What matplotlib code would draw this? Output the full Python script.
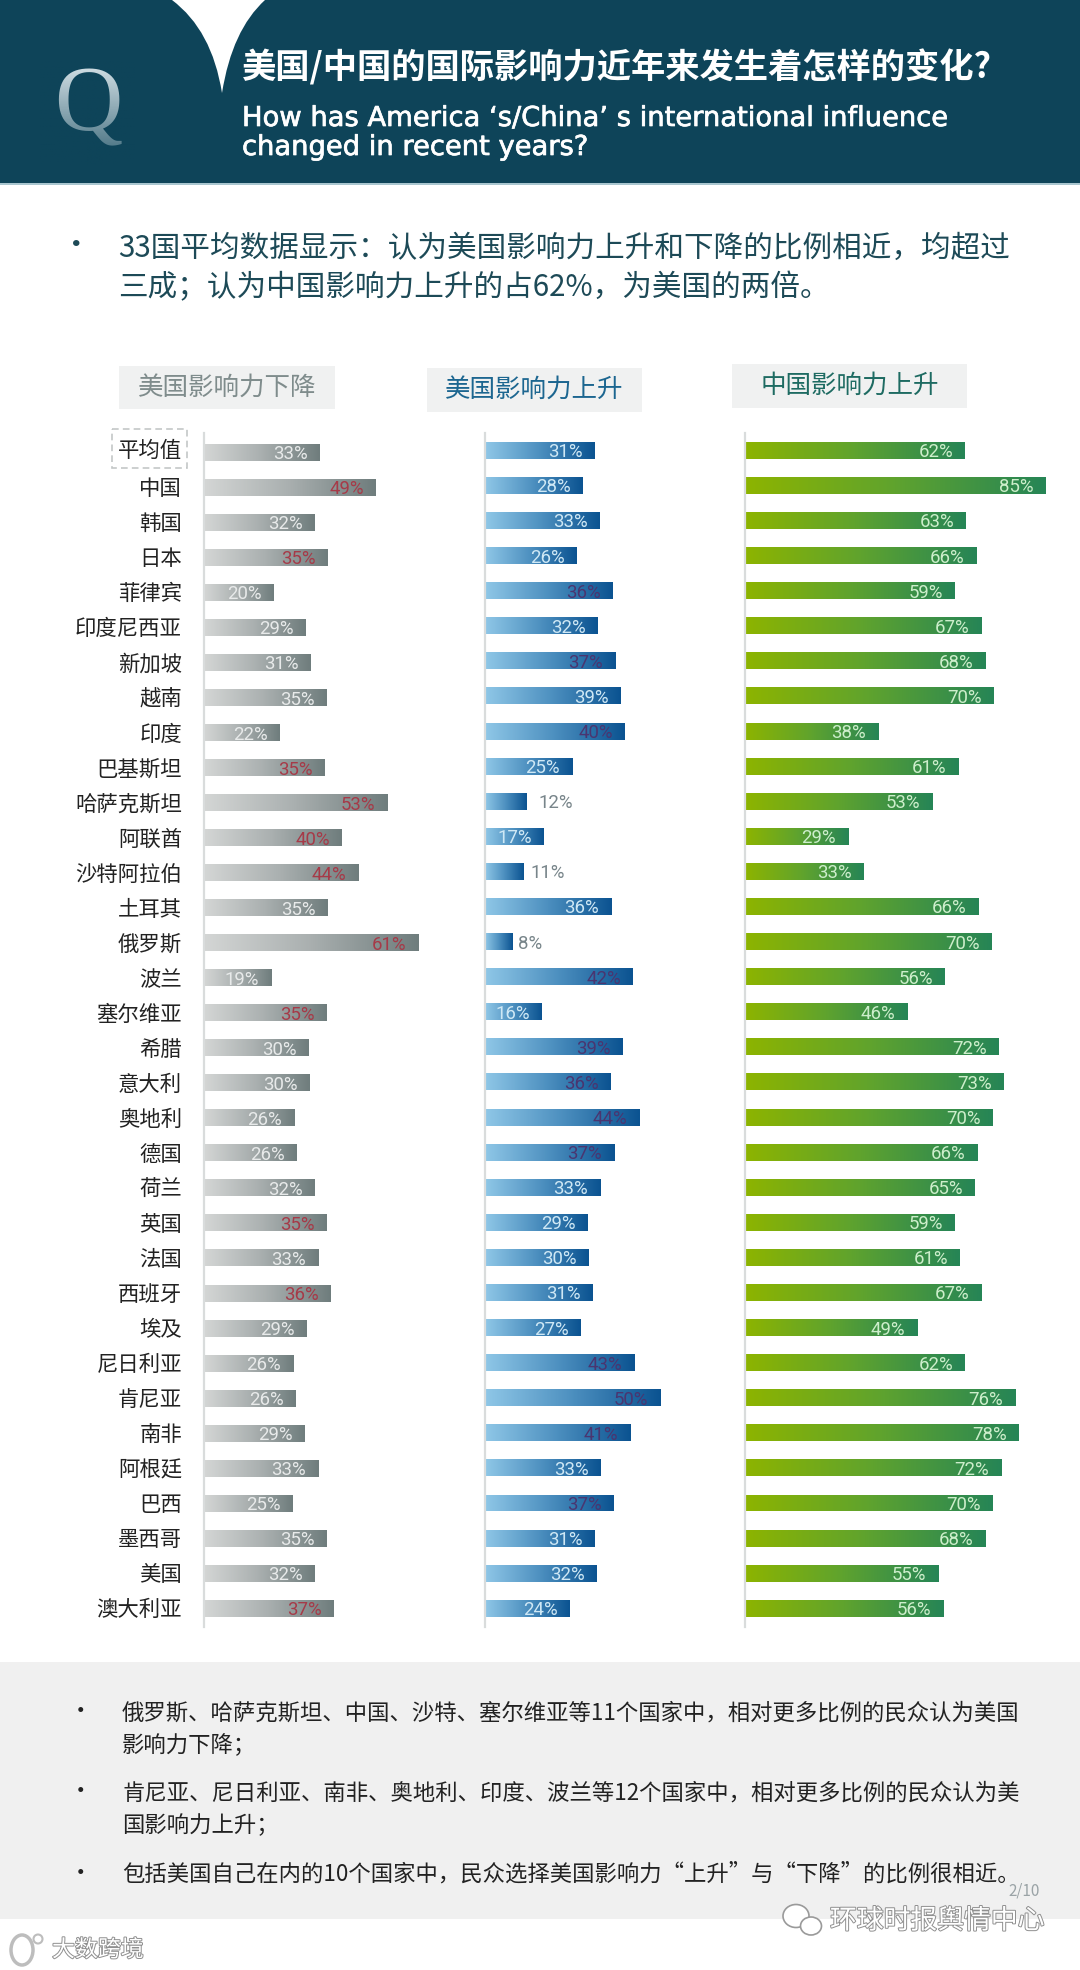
import numpy as np
import matplotlib
matplotlib.use('Agg')
import matplotlib.pyplot as plt
import matplotlib.patheffects as pe
from matplotlib.colors import LinearSegmentedColormap, to_rgb
from matplotlib.patches import Rectangle, Ellipse, PathPatch
from matplotlib.path import Path

plt.rcParams['font.family'] = ['Noto Sans CJK SC', 'DejaVu Sans']

W, H = 1080, 1970

countries = ['平均值', '中国', '韩国', '日本', '菲律宾', '印度尼西亚', '新加坡', '越南', '印度',
             '巴基斯坦', '哈萨克斯坦', '阿联酋', '沙特阿拉伯', '土耳其', '俄罗斯', '波兰', '塞尔维亚',
             '希腊', '意大利', '奥地利', '德国', '荷兰', '英国', '法国', '西班牙', '埃及', '尼日利亚',
             '肯尼亚', '南非', '阿根廷', '巴西', '墨西哥', '美国', '澳大利亚']

# bar lengths, printed labels kept apart
us_down = [33.0, 48.9, 31.6, 35.2, 19.9, 29.0, 30.3, 35.0, 21.6, 34.3, 52.2, 39.3, 43.9, 35.2, 61.1, 19.1, 34.9,
           29.9, 30.1, 25.7, 26.3, 31.5, 34.9, 32.5, 36.0, 29.2, 25.4, 26.0, 28.6, 32.5, 25.2, 34.9, 31.5, 37.0]
us_down_labels = [33, 49, 32, 35, 20, 29, 31, 35, 22, 35, 53, 40, 44, 35, 61, 19, 35,
                  30, 30, 26, 26, 32, 35, 33, 36, 29, 26, 26, 29, 33, 25, 35, 32, 37]
us_up = [31.3, 27.9, 32.7, 26.1, 36.4, 32.0, 37.1, 38.5, 39.8, 24.8, 11.9, 16.8, 11.1, 35.9, 7.8, 42.1, 16.2,
         39.1, 35.8, 44.0, 36.8, 32.8, 29.1, 29.5, 30.6, 27.3, 42.6, 50.0, 41.4, 33.0, 36.7, 31.1, 31.8, 24.1]
us_up_labels = [31, 28, 33, 26, 36, 32, 37, 39, 40, 25, 12, 17, 11, 36, 8, 42, 16,
                39, 36, 44, 37, 33, 29, 30, 31, 27, 43, 50, 41, 33, 37, 31, 32, 24]
cn_up = [62.3, 85.0, 62.6, 65.5, 59.4, 66.9, 68.0, 70.5, 37.7, 60.5, 53.0, 29.2, 33.5, 66.2, 69.8, 56.6, 45.9,
         71.9, 73.3, 70.1, 65.8, 65.1, 59.4, 60.9, 66.9, 48.8, 62.3, 76.5, 77.6, 72.6, 70.1, 68.0, 54.8, 56.2]
cn_up_labels = [62, 85, 63, 66, 59, 67, 68, 70, 38, 61, 53, 29, 33, 66, 70, 56, 46,
                72, 73, 70, 66, 65, 59, 61, 67, 49, 62, 76, 78, 72, 70, 68, 55, 56]

# countries whose label is picked out in each column
down_red = ['中国', '日本', '巴基斯坦', '哈萨克斯坦', '阿联酋', '沙特阿拉伯', '俄罗斯', '塞尔维亚', '英国', '西班牙', '澳大利亚']
up_dark = ['菲律宾', '新加坡', '印度', '波兰', '希腊', '意大利', '奥地利', '德国', '尼日利亚', '肯尼亚', '南非', '巴西']
outside_gap = {'哈萨克斯坦': 12, '沙特阿拉伯': 7, '俄罗斯': 6}

fig = plt.figure(figsize=(W / 100, H / 100), dpi=100, facecolor='white')

# page furniture drawn in pixel coordinates
bg = fig.add_axes([0, 0, 1, 1], zorder=0)
bg.set_xlim(0, W)
bg.set_ylim(H, 0)
bg.axis('off')

NAVY = '#0e4459'
bg.add_patch(Rectangle((0, 0), W, 183, color=NAVY, lw=0))
bg.add_patch(Rectangle((0, 183), W, 1.5, color='#a9c6cf', lw=0))
notch = Path([(172, 0), (212, 30), (222, 93), (232, 30), (265, 0), (172, 0)],
             [Path.MOVETO, Path.CURVE3, Path.CURVE3, Path.CURVE3, Path.CURVE3, Path.CLOSEPOLY])
bg.add_patch(PathPatch(notch, fc='white', ec='none'))

bg.text(88, 108, 'Q', family='Liberation Serif', fontsize=68, color='#d9e5ea', ha='center', va='center')
fade = np.zeros((64, 1, 4))
fade[..., :3] = to_rgb(NAVY)
fade[..., 3] = np.linspace(0, 0.8, 64)[:, None]
bg.imshow(fade, extent=(40, 135, 165, 60), aspect='auto', zorder=3)

bg.text(242, 67, '美国/中国的国际影响力近年来发生着怎样的变化?', color='white', fontsize=24.7, weight='bold', va='center')
heavy = [pe.withStroke(linewidth=0.5, foreground='white')]
bg.text(242, 119, 'How has America \u2018s/China\u2019 s international influence', color='white', fontsize=19.7,
        family='DejaVu Sans', va='center', path_effects=heavy)
bg.text(242, 148, 'changed in recent years?', color='white', fontsize=19.7, family='DejaVu Sans', va='center', path_effects=heavy)

TEAL = '#1d4a57'
bg.text(76, 246, '\u2022', color=TEAL, fontsize=22, ha='center', va='center')
bg.text(118, 248, '33国平均数据显示\uff1a认为美国影响力上升和下降的比例相近\uff0c均超过', color=TEAL, fontsize=21.3, va='center')
bg.text(118, 288, '三成\uff1b认为中国影响力上升的占62%\uff0c为美国的两倍。', color=TEAL, fontsize=21.3, va='center')

# column heads
heads = [('美国影响力下降', 119, 366, 216, 43, '#7f8c8c'),
         ('美国影响力上升', 427, 368, 215, 44, '#1c6690'),
         ('中国影响力上升', 732, 364, 235, 44, '#1e6b62')]
for name, x, y, w, h, col in heads:
    bg.add_patch(Rectangle((x, y), w, h, color='#f0f1f1', lw=0))
    bg.text(x + w / 2, y + h / 2, name, color=col, fontsize=18.4, ha='center', va='center')

bg.add_patch(Rectangle((112, 429), 75, 39, fc='none', ec='#c3c7c7', lw=1.2, ls=(0, (4, 2.5))))

# bottom panel
bg.add_patch(Rectangle((0, 1662), W, 257, color='#f0f0f0', lw=0))
notes = [(1713, '俄罗斯、哈萨克斯坦、中国、沙特、塞尔维亚等11个国家中\uff0c相对更多比例的民众认为美国', True),
         (1746, '影响力下降\uff1b', False),
         (1793, '肯尼亚、尼日利亚、南非、奥地利、印度、波兰等12个国家中\uff0c相对更多比例的民众认为美', True),
         (1826, '国影响力上升\uff1b', False),
         (1874, '包括美国自己在内的10个国家中\uff0c民众选择美国影响力\u201c上升\u201d与\u201c下降\u201d的比例很相近。', True)]
for y, line, bullet in notes:
    bg.text(122, y, line, color='#222222', fontsize=16.1, va='center')
    if bullet:
        bg.text(81, y - 1, '\u2022', color='#222222', fontsize=17, ha='center', va='center')
bg.text(1040, 1891, '2/10', color='#9aa3a6', fontsize=11, ha='right', va='center')

# watermarks
mark = [pe.withStroke(linewidth=1.4, foreground='#8f8f8f')]
bg.text(830, 1921, '环球时报舆情中心', color='white', fontsize=19.3, va='center', path_effects=mark)
bg.add_patch(Ellipse((796, 1916), 26, 23, fc='white', ec='#9a9a9a', lw=1.2))
bg.add_patch(Ellipse((811, 1926), 21, 18, fc='white', ec='#9a9a9a', lw=1.2))
bg.text(52, 1950, '大数跨境', color='white', fontsize=16.5, va='center', path_effects=mark)
bg.add_patch(Ellipse((22, 1950), 22, 30, fc='none', ec='#bdbdbd', lw=2.5))
bg.add_patch(Ellipse((38, 1939), 9, 9, fc='none', ec='#bdbdbd', lw=1.5))

cmap_grey = LinearSegmentedColormap.from_list('g', ['#d4d6d5', '#a9afaf', '#6f7d7d'])
cmap_blue = LinearSegmentedColormap.from_list('b', ['#8fc7e7', '#4c8fbf', '#0b5391'])
cmap_green = LinearSegmentedColormap.from_list('c', ['#8db400', '#5fa32e', '#268556'])
ramp = np.linspace(0, 1, 128)[None, :]

VALUE_FONT = ['Roboto', 'Noto Sans']


def draw_column(x0, row0, step, px_per_unit, values, labels, cmap, text_col, hi_names, hi_col):
    # spine runs from y=433 to y=1627, rows are placed by the y limits
    top, bottom = 433, 1627
    ax = fig.add_axes([x0 / W, 1 - bottom / H, 330 / W, (bottom - top) / H], zorder=2)
    ax.patch.set_alpha(0)
    bars = ax.barh(np.arange(len(values)), values, height=17 / step, color='none', lw=0)
    for bar in bars:
        xa, ya, ba, bh = bar.get_bbox().bounds
        im = ax.imshow(ramp, cmap=cmap, aspect='auto', extent=(xa, xa + ba, ya + bh, ya), zorder=2)
        im.set_clip_path(bar)
    ax.set_xlim(0, 330 / px_per_unit)
    ax.set_ylim((bottom - row0) / step, (top - row0) / step)
    ax.set_xticks([])
    ax.set_yticks([])
    for side in ['top', 'right', 'bottom']:
        ax.spines[side].set_visible(False)
    ax.spines['left'].set_color('#d9dcdc')
    ax.spines['left'].set_linewidth(1.6)

    for i, (name, v, lab) in enumerate(zip(countries, values, labels)):
        if name in outside_gap and cmap is cmap_blue:
            ax.annotate(f'{lab}%', (v, i), xytext=(outside_gap[name], -2), textcoords='offset pixels',
                        family=VALUE_FONT, fontsize=13.4, color='#78858a', ha='left', va='center')
        else:
            col = hi_col if name in hi_names else text_col
            ax.annotate(f'{lab}%', (v, i), xytext=(-12, -2), textcoords='offset pixels',
                        family=VALUE_FONT, fontsize=13.4, color=col, ha='right', va='center')
    return ax


ax1 = draw_column(204, 452.3, 35.03, 3.51, us_down, us_down_labels, cmap_grey, '#e8eaea', down_red, '#a63a48')
draw_column(485, 450.3, 35.09, 3.51, us_up, us_up_labels, cmap_blue, '#cfe8f5', up_dark, '#4a3570')
draw_column(745, 450.3, 35.09, 3.53, cn_up, cn_up_labels, cmap_green, '#cdeecb', [], '#cdeecb')

for i, name in enumerate(countries):
    ax1.annotate(name, (0, i), xytext=(-22, 1 if i == 0 else -2), textcoords='offset pixels',
                 fontsize=15.4, color='#222222', ha='right', va='center', annotation_clip=False)

fig.savefig('out.png', dpi=100)
